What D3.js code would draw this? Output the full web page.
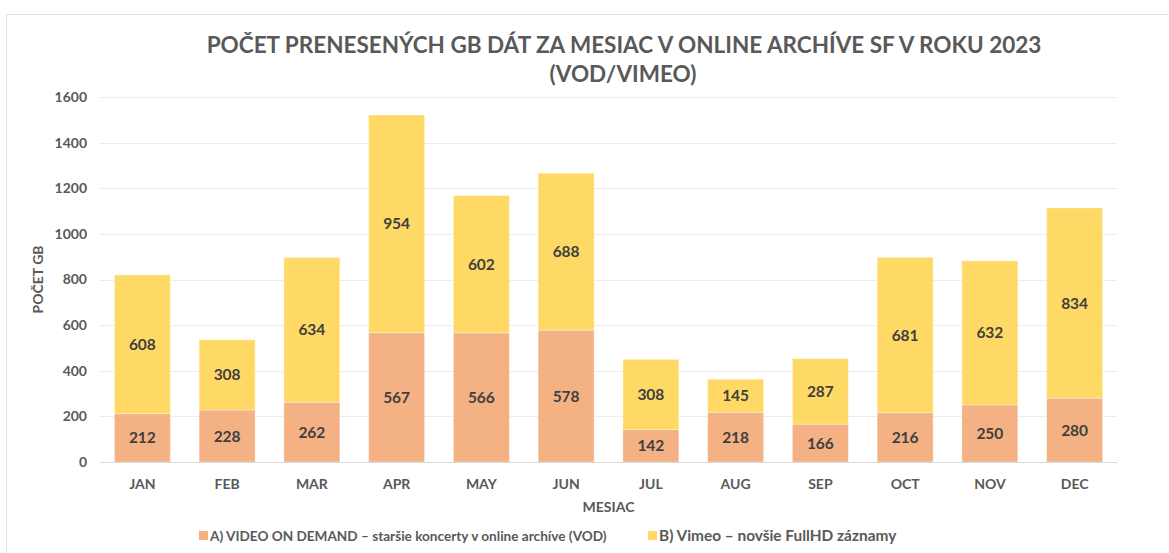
<!DOCTYPE html>
<html>
<head>
<meta charset="utf-8">
<style>
  body { margin: 0; background: #fff; }
  svg text { font-family: Lato, "Open Sans", sans-serif; font-weight: bold; }
</style>
</head>
<body>
<div id="chart"></div>
<script src="https://d3js.org/d3.v7.min.js"></script>
<script>
// data
var months = ["JAN", "FEB", "MAR", "APR", "MAY", "JUN", "JUL", "AUG", "SEP", "OCT", "NOV", "DEC"];
var vod = [212, 228, 262, 567, 566, 578, 142, 218, 166, 216, 250, 280];
var vimeo = [608, 308, 634, 954, 602, 688, 308, 145, 287, 681, 632, 834];
var yTicks = [0, 200, 400, 600, 800, 1000, 1200, 1400, 1600];
var seriesNames = ["A) VIDEO ON DEMAND – staršie koncerty v online archíve (VOD)", "B) Vimeo – novšie FullHD záznamy"];
var colors = ["#F4B183", "#FFD966"];

var w = 1169, h = 553;
var plotLeft = 100, plotRight = 1117, plotTop = 97, plotBottom = 462;

var svg = d3.select("#chart").append("svg")
    .attr("width", w)
    .attr("height", h);

// chart frame (only top + left edges visible in the picture)
svg.append("path")
    .attr("d", "M6.5," + h + "V14.5H" + w)
    .attr("fill", "none")
    .attr("stroke", "#e3e3e3");

var x = d3.scaleBand()
    .domain(months)
    .range([plotLeft, plotRight])
    .paddingInner(0.34)
    .paddingOuter(0.17);

var y = d3.scaleLinear()
    .domain([0, 1600])
    .range([plotBottom, plotTop]);

// gridlines
svg.append("g")
    .selectAll("line")
    .data(yTicks.slice(1))
    .enter()
    .append("line")
    .attr("x1", plotLeft)
    .attr("x2", plotRight)
    .attr("y1", function (d) { return Math.round(y(d)) + 0.5; })
    .attr("y2", function (d) { return Math.round(y(d)) + 0.5; })
    .attr("stroke", "#ececec");

// y axis labels
var yAxis = svg.append("g")
    .attr("transform", "translate(" + plotLeft + ",0)")
    .call(d3.axisLeft(y).tickValues(yTicks).tickFormat(d3.format("d")).tickSize(0).tickPadding(13));
yAxis.select(".domain").remove();
yAxis.selectAll("text")
    .attr("fill", "#595959")
    .style("font-size", "14px")
    .style("font-family", "Lato");

// stacked data
var rows = months.map(function (m, i) { return { month: m, vod: vod[i], vimeo: vimeo[i] }; });
var stack = d3.stack().keys(["vod", "vimeo"])(rows);

var layers = svg.append("g")
    .selectAll("g")
    .data(stack)
    .enter()
    .append("g")
    .attr("fill", function (d, i) { return colors[i]; });

layers.selectAll("rect")
    .data(function (d) { return d; })
    .enter()
    .append("rect")
    .attr("x", function (d) { return x(d.data.month); })
    .attr("width", x.bandwidth())
    .attr("y", function (d) { return y(d[1]); })
    .attr("height", function (d) { return y(d[0]) - y(d[1]); })
    .attr("stroke", "#fff")
    .attr("stroke-opacity", 0.35)
    .attr("stroke-width", 1);

// data labels
layers.selectAll("text")
    .data(function (d) { return d; })
    .enter()
    .append("text")
    .attr("x", function (d) { return x(d.data.month) + x.bandwidth() / 2; })
    .attr("y", function (d) { return (y(d[0]) + y(d[1])) / 2; })
    .attr("dy", "0.36em")
    .attr("text-anchor", "middle")
    .attr("fill", "#404040")
    .style("font-size", "15.5px")
    .text(function (d) { return d[1] - d[0]; });

// x axis
var xAxis = svg.append("g")
    .attr("transform", "translate(0," + plotBottom + ")")
    .call(d3.axisBottom(x).tickSize(0).tickPadding(17));
xAxis.select(".domain")
    .attr("stroke", "#d9d9d9")
    .attr("stroke-width", 1.2);
xAxis.selectAll("text")
    .attr("fill", "#595959")
    .style("font-size", "14px")
    .style("font-family", "Lato");

// axis titles
svg.append("text")
    .attr("x", (plotLeft + plotRight) / 2)
    .attr("y", 512)
    .attr("text-anchor", "middle")
    .attr("fill", "#595959")
    .style("font-size", "14px")
    .text("MESIAC");

svg.append("text")
    .attr("transform", "translate(43," + (plotTop + plotBottom) / 2 + ") rotate(-90)")
    .attr("text-anchor", "middle")
    .attr("fill", "#595959")
    .style("font-size", "14px")
    .text("POČET GB");

// title
var title = svg.append("text")
    .attr("text-anchor", "middle")
    .attr("fill", "#595959")
    .style("font-size", "22.5px");
title.append("tspan").attr("x", 624).attr("y", 53)
    .text("POČET PRENESENÝCH GB DÁT ZA MESIAC V ONLINE ARCHÍVE SF V ROKU 2023");
title.append("tspan").attr("x", 623).attr("y", 82)
    .text("(VOD/VIMEO)");

// legend (second entry is set a bit larger in the original)
var legendX = [199, 648];
var legendSize = [13.6, 15.4];
var legend = svg.append("g")
    .selectAll("g")
    .data(seriesNames)
    .enter()
    .append("g")
    .attr("transform", function (d, i) { return "translate(" + legendX[i] + ",531)"; });
legend.append("rect")
    .attr("width", 9)
    .attr("height", 9)
    .attr("fill", function (d, i) { return colors[i]; });
legend.append("text")
    .attr("x", 11)
    .attr("y", 10)
    .attr("fill", "#595959")
    .style("font-size", function (d, i) { return legendSize[i] + "px"; })
    .text(function (d) { return d; });
</script>
</body>
</html>
